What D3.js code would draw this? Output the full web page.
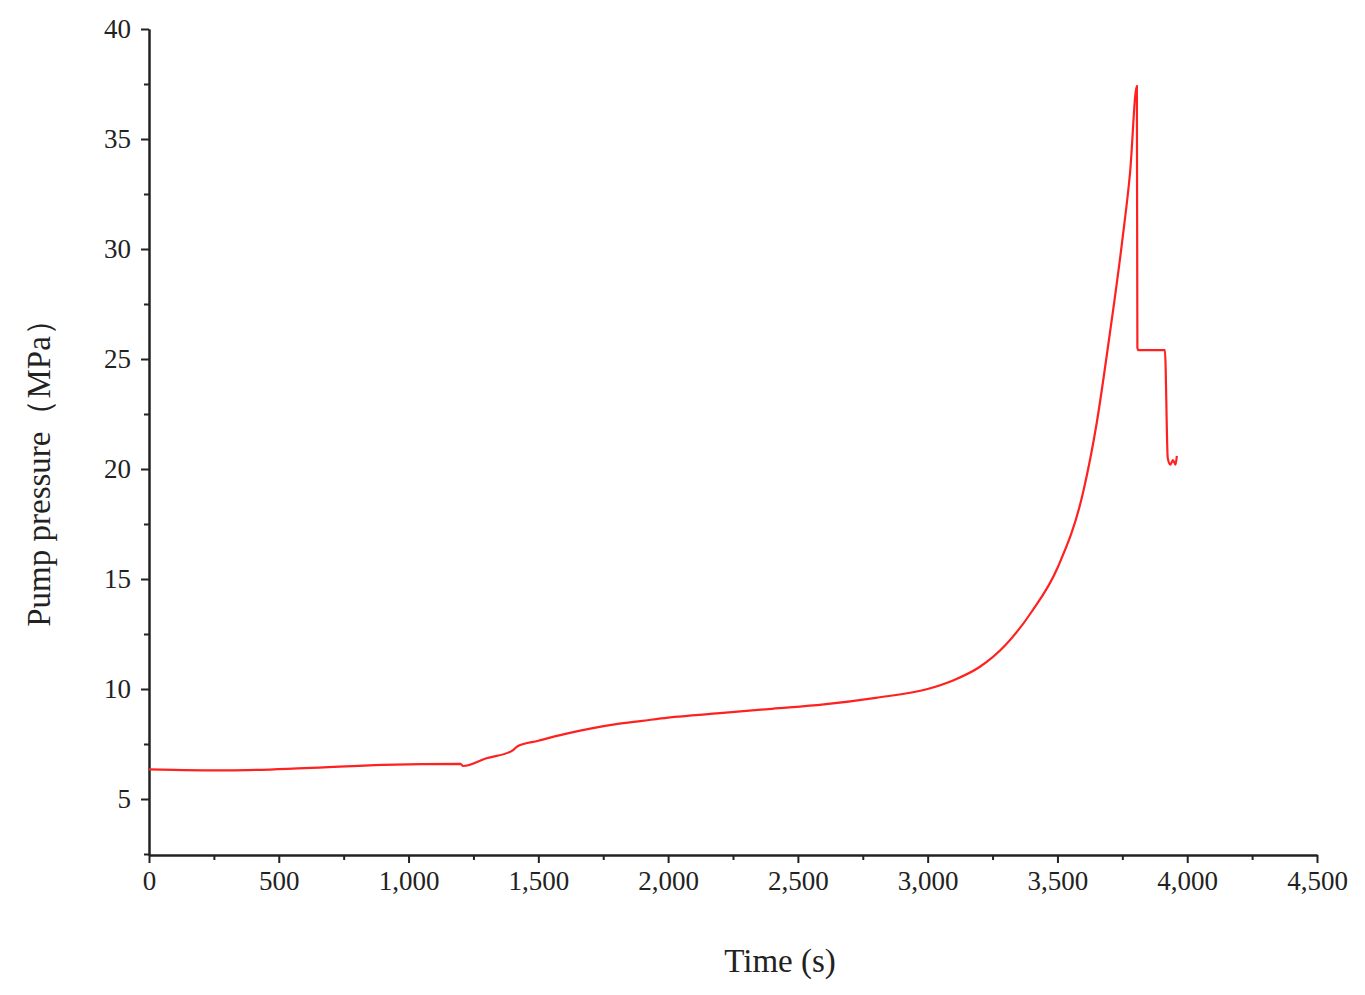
<!DOCTYPE html>
<html><head><meta charset="utf-8">
<script src="https://d3js.org/d3.v7.min.js"></script>
<style>body{margin:0;background:#fff}</style>
</head><body>
<script>
const times = [0, 300, 600, 900, 1200, 1210, 1300, 1400, 1420, 1500, 1600, 1700, 1800, 1900, 2000, 2200, 2400, 2600, 2800, 3000, 3100, 3200, 3300, 3400, 3500, 3600, 3650, 3700, 3750, 3780, 3806, 3808, 3812, 3914, 3925, 3935, 3945, 3955, 3960];
const pressure = [6.35, 6.3, 6.4, 6.55, 6.6, 6.5, 6.85, 7.2, 7.4, 7.65, 7.95, 8.2, 8.4, 8.55, 8.7, 8.9, 9.1, 9.3, 9.6, 10.0, 10.4, 11.0, 12.0, 13.5, 15.5, 19.0, 22.0, 26.0, 30.4, 33.5, 37.4, 25.5, 25.4, 25.4, 20.5, 20.2, 20.4, 20.2, 20.6];
const xTicks = [0, 500, 1000, 1500, 2000, 2500, 3000, 3500, 4000, 4500];
const yTicks = [5, 10, 15, 20, 25, 30, 35, 40];

const W = 1365, H = 995, mLeft = 149, mRight = 1317, mTop = 29, mBottom = 855;
const svg = d3.select("body").append("svg").attr("width", W).attr("height", H)
  .style("font-family", "Liberation Serif");
const x = d3.scaleLinear().domain([0, 4500]).range([mLeft, mRight]);
const y = d3.scaleLinear().domain([40 - (mBottom - mTop) / 22, 40]).range([mBottom, mTop]);

svg.append("g").attr("transform", `translate(0,${mBottom})`)
  .call(d3.axisBottom(x).tickValues(xTicks).tickSize(8).tickSizeOuter(0).tickPadding(8));
svg.append("g").attr("transform", `translate(0,${mBottom})`)
  .call(d3.axisBottom(x).tickValues(d3.range(250, 4500, 500)).tickSize(5).tickFormat("").tickSizeOuter(0));
svg.append("g").attr("transform", `translate(${mLeft},0)`)
  .call(d3.axisLeft(y).tickValues(yTicks).tickSize(8).tickSizeOuter(0).tickPadding(10));
svg.append("g").attr("transform", `translate(${mLeft},0)`)
  .call(d3.axisLeft(y).tickValues(d3.range(2.5, 40, 5)).tickSize(5).tickFormat("").tickSizeOuter(0));
svg.selectAll(".domain, .tick line").attr("stroke", "#222").attr("stroke-width", 2);
svg.selectAll(".tick text").attr("font-size", 27).attr("fill", "#222").attr("font-family", "Liberation Serif");

svg.append("path").datum(times.map((t, i) => [t, pressure[i]]))
  .attr("fill", "none").attr("stroke", "#ff2020").attr("stroke-width", 2.2)
  .attr("d", d3.line().x(d => x(d[0])).y(d => y(d[1])).curve(d3.curveMonotoneX));

svg.append("text").attr("x", 780).attr("y", 972).attr("text-anchor", "middle")
  .attr("font-size", 33).attr("fill", "#222").text("Time (s)");
svg.append("text").attr("transform", "translate(50,465) rotate(-90)").attr("text-anchor", "middle")
  .attr("font-size", 33).attr("fill", "#222").text("Pump pressure（MPa）");
</script>
</body></html>
